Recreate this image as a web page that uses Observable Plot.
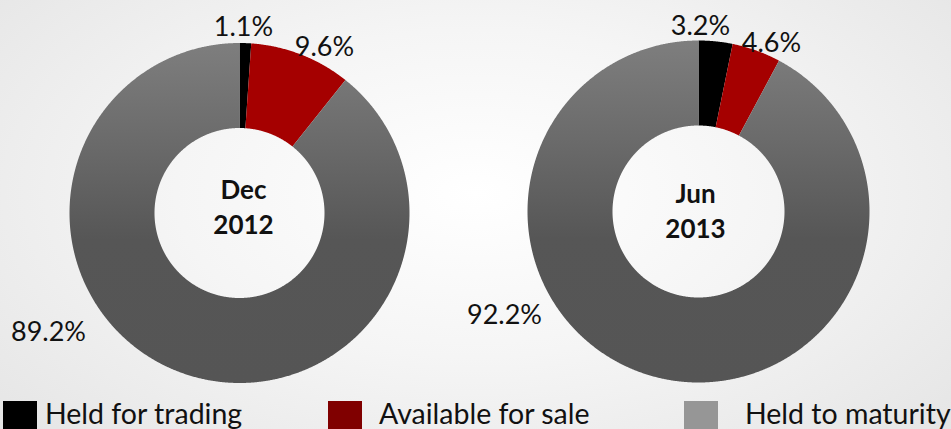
<!DOCTYPE html>
<html><head><meta charset="utf-8">
<script src="https://cdn.jsdelivr.net/npm/d3@7"></script>
<script src="https://cdn.jsdelivr.net/npm/@observablehq/plot@0.6"></script>
<style>
html,body{margin:0;padding:0;}
body{width:951px;height:429px;overflow:hidden;position:relative;
  background:radial-gradient(ellipse 70% 85% at 50% 45%, #ffffff 0%, #f5f5f5 45%, #e4e4e4 100%);
  font-family:Lato,"DejaVu Sans",sans-serif;}
#chart{position:absolute;left:0;top:0;}
#legend{position:absolute;left:0;top:401px;width:951px;height:28px;}
.sw{position:absolute;top:0;width:34px;height:28px}
.lab{position:absolute;top:-4px;font-size:28.5px;line-height:33px;color:#111;white-space:nowrap}
</style></head><body>
<div id="chart"></div><div id="legend"></div>
<script>
// ---- data ----
const categories = ["Held for trading", "Available for sale", "Held to maturity"];
const periods = ["Dec\n2012", "Jun\n2013"];
const dec2012 = [1.1, 9.6, 89.2];
const jun2013 = [3.2, 4.6, 92.2];
const seriesValues = [dec2012, jun2013];

// ---- layout / style (not data) ----
const donuts = [
  {cx: 239, cy: 212.5, r: 170, r0: 85},
  {cx: 698, cy: 211, r: 171, r0: 86}
];
const labelPos = [
  [{x: 243, y: 35}, {x: 324, y: 55}, {x: 48, y: 340}],
  [{x: 700, y: 34}, {x: 771, y: 51}, {x: 504, y: 323}]
];
const centerPos = [{x: 243, y: 233}, {x: 695, y: 237}];
const sliceColors = ["#000000", "#a50000", "url(#grayGrad)"];
const legendColors = ["#000000", "#800000", "#969696"];
const legendSwatchX = [3, 328, 684];
const legendTextX = [45, 379, 745];

// ---- build slice polygons from values ----
const pie = d3.pie().sort(null).value(d => d.value);
const polys = [];
const labels = [];
seriesValues.forEach((vals, di) => {
  const {cx, cy, r, r0} = donuts[di];
  const arcs = pie(vals.map((v, i) => ({value: v, cat: categories[i]})));
  arcs.forEach((a, si) => {
    const key = di + "-" + si;
    const n = Math.max(2, Math.ceil((a.endAngle - a.startAngle) / 0.005) + 1);
    const pts = [];
    for (let k = 0; k < n; k++) {
      const t = a.startAngle + (a.endAngle - a.startAngle) * k / (n - 1);
      pts.push({x: cx + r * Math.sin(t), y: cy - r * Math.cos(t), key, cat: a.data.cat});
    }
    for (let k = n - 1; k >= 0; k--) {
      const t = a.startAngle + (a.endAngle - a.startAngle) * k / (n - 1);
      pts.push({x: cx + r0 * Math.sin(t), y: cy - r0 * Math.cos(t), key, cat: a.data.cat});
    }
    polys.push(...pts);
    labels.push({x: labelPos[di][si].x, y: labelPos[di][si].y, text: vals[si].toFixed(1) + "%"});
  });
});
const centers = periods.map((p, i) => ({x: centerPos[i].x, y: centerPos[i].y, text: p}));

const defs = () => {
  const g = d3.create("svg:defs");
  const lg = g.append("linearGradient").attr("id", "grayGrad")
    .attr("x1", 0).attr("y1", 0).attr("x2", 0).attr("y2", 1);
  lg.append("stop").attr("offset", "0%").attr("stop-color", "#7e7e7e");
  lg.append("stop").attr("offset", "30%").attr("stop-color", "#6a6a6a");
  lg.append("stop").attr("offset", "58%").attr("stop-color", "#565656");
  lg.append("stop").attr("offset", "100%").attr("stop-color", "#555555");
  return g.node();
};

const chart = Plot.plot({
  width: 951,
  height: 398,
  margin: 0,
  x: {domain: [0, 951], range: [0, 951], axis: null},
  y: {domain: [0, 398], range: [0, 398], axis: null},
  color: {domain: categories, range: sliceColors},
  style: {background: "transparent", overflow: "visible"},
  marks: [
    defs,
    Plot.line(polys, {x: "x", y: "y", z: "key", fill: "cat", stroke: "none", curve: "linear-closed"}),
    Plot.text(labels, {x: "x", y: "y", text: "text", lineAnchor: "bottom", textAnchor: "middle",
      fontSize: 27, fill: "#111", fontFamily: "Lato, sans-serif"}),
    Plot.text(centers, {x: "x", y: "y", text: "text", lineAnchor: "bottom", textAnchor: "middle",
      fontSize: 26, fontWeight: "bold", lineHeight: 1.31, fill: "#111", fontFamily: "Lato, sans-serif"})
  ]
});
document.getElementById("chart").appendChild(chart);

// ---- legend ----
const legend = d3.select("#legend");
categories.forEach((c, i) => {
  legend.append("div").attr("class", "sw").style("left", legendSwatchX[i] + "px").style("background", legendColors[i]);
  legend.append("div").attr("class", "lab").style("left", legendTextX[i] + "px").text(c);
});
</script>
</body></html>
